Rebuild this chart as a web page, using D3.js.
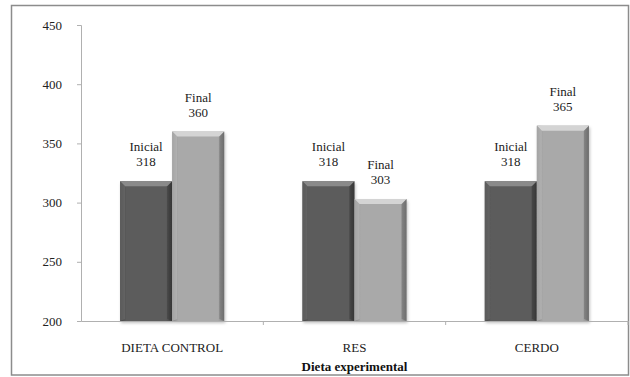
<!DOCTYPE html>
<html>
<head>
<meta charset="utf-8">
<script src="https://cdn.jsdelivr.net/npm/d3@7"></script>
<style>
  html, body { margin: 0; padding: 0; background: #fff; }
  svg { display: block; }
</style>
</head>
<body>
<svg id="chart" width="630" height="377"></svg>
<script>
// Peso por dieta experimental: valores iniciales y finales
const categories = ["DIETA CONTROL", "RES", "CERDO"];
const series = ["Inicial", "Final"];
const inicialValues = [318, 318, 318];
const finalValues = [360, 303, 365];
const yTicks = [200, 250, 300, 350, 400, 450];
const xTitle = "Dieta experimental";

const svg = d3.select("#chart");
const plot = { left: 81, right: 628, top: 25, bottom: 321 };
const serif = "Liberation Serif";
const fs = 13;

// outer frame
svg.append("rect")
  .attr("x", 11.5).attr("y", 5.5)
  .attr("width", 617).attr("height", 369.5)
  .attr("fill", "#fff").attr("stroke", "#8c8c8c").attr("stroke-width", 1.5);

const x0 = d3.scaleBand().domain(categories).range([plot.left, plot.right]).paddingInner(0).paddingOuter(0);
const x1 = d3.scaleBand().domain(series).range([0, x0.bandwidth()]).paddingInner(0).paddingOuter(0.75);
const y = d3.scaleLinear().domain([200, 450]).range([plot.bottom, plot.top]);

const defs = svg.append("defs");
function barGradient(id, edge, mid) {
  const g = defs.append("linearGradient").attr("id", id).attr("x1", "0").attr("x2", "1").attr("y1", "0").attr("y2", "0");
  g.append("stop").attr("offset", "0").attr("stop-color", edge);
  g.append("stop").attr("offset", "0.12").attr("stop-color", mid);
  g.append("stop").attr("offset", "0.88").attr("stop-color", mid);
  g.append("stop").attr("offset", "1").attr("stop-color", edge);
}
barGradient("gInicial", "#444", "#5c5c5c");
barGradient("gFinal", "#858585", "#a9a9a9");
const shadow = defs.append("filter").attr("id", "shadow").attr("x", "-20%").attr("y", "-5%").attr("width", "140%").attr("height", "115%");
shadow.append("feDropShadow").attr("dx", 1).attr("dy", 2).attr("stdDeviation", 1.5).attr("flood-color", "#000").attr("flood-opacity", 0.25);

const colors = {
  Inicial: { fill: "url(#gInicial)", top: "#8a8a8a", side: "#6e6e6e" },
  Final: { fill: "url(#gFinal)", top: "#d4d4d4", side: "#bdbdbd" }
};

// y axis
const yAxis = d3.axisLeft(y).tickValues(yTicks).tickSize(4).tickPadding(15).tickFormat(d3.format("d"));
const gy = svg.append("g").attr("transform", `translate(${plot.left},0)`).call(yAxis);
gy.attr("font-family", serif).attr("font-size", fs);
gy.select(".domain").attr("stroke", "#b0b0b0");
gy.selectAll(".tick line").attr("stroke", "#b0b0b0");
gy.selectAll(".tick text").attr("fill", "#222");

// bars
const rows = categories.map((c, i) => ({ cat: c, vals: [
  { s: "Inicial", v: inicialValues[i] },
  { s: "Final", v: finalValues[i] }
]}));

const groups = svg.append("g").selectAll("g").data(rows).join("g")
  .attr("transform", d => `translate(${x0(d.cat)},0)`);

const bars = groups.selectAll("g.bar").data(d => d.vals).join("g").attr("class", "bar");
const bev = 5;
bars.append("rect")
  .attr("x", d => x1(d.s)).attr("y", d => y(d.v))
  .attr("width", x1.bandwidth()).attr("height", d => y(200) - y(d.v))
  .attr("fill", d => colors[d.s].fill)
  .attr("filter", "url(#shadow)");
// bevelled top face
bars.append("path")
  .attr("d", d => {
    const xa = x1(d.s), xb = xa + x1.bandwidth(), yt = y(d.v);
    return `M${xa},${yt}L${xb},${yt}L${xb - bev},${yt + bev}L${xa + bev},${yt + bev}Z`;
  })
  .attr("fill", d => colors[d.s].top);
// bevelled side edges
bars.append("path")
  .attr("d", d => {
    const xa = x1(d.s), yt = y(d.v), yb = y(200);
    return `M${xa},${yt}L${xa + bev},${yt + bev}L${xa + bev},${yb - 2}L${xa},${yb}Z`;
  })
  .attr("fill", d => colors[d.s].side).attr("opacity", 0.55);
bars.append("path")
  .attr("d", d => {
    const xb = x1(d.s) + x1.bandwidth(), yt = y(d.v), yb = y(200);
    return `M${xb},${yt}L${xb - bev},${yt + bev}L${xb - bev},${yb - 2}L${xb},${yb}Z`;
  })
  .attr("fill", "#000").attr("opacity", 0.18);

// data labels
const labels = bars.append("text")
  .attr("text-anchor", "middle")
  .attr("font-family", serif)
  .attr("font-size", fs).attr("fill", "#222");
labels.append("tspan")
  .attr("x", d => x1(d.s) + x1.bandwidth() / 2)
  .attr("y", d => y(d.v) - 30)
  .text(d => d.s);
labels.append("tspan")
  .attr("x", d => x1(d.s) + x1.bandwidth() / 2)
  .attr("y", d => y(d.v) - 15)
  .text(d => d.v);

// x axis
const xAxis = d3.axisBottom(x0).tickSize(0).tickPadding(22);
const gx = svg.append("g").attr("transform", `translate(0,${plot.bottom})`).call(xAxis);
gx.attr("font-family", serif).attr("font-size", fs);
gx.select(".domain").attr("stroke", "#b0b0b0");
gx.selectAll(".tick text").attr("fill", "#222");
// category separators
svg.append("g").selectAll("line")
  .data(categories.slice(1).map(c => x0(c)).concat([plot.right]))
  .join("line")
  .attr("x1", d => d).attr("x2", d => d)
  .attr("y1", plot.bottom).attr("y2", plot.bottom + 4)
  .attr("stroke", "#b0b0b0");

// axis title
svg.append("text")
  .attr("x", (plot.left + plot.right) / 2)
  .attr("y", 370.5)
  .attr("text-anchor", "middle")
  .attr("font-family", serif)
  .attr("font-size", fs).attr("font-weight", "bold").attr("fill", "#111")
  .text(xTitle);
</script>
</body>
</html>
